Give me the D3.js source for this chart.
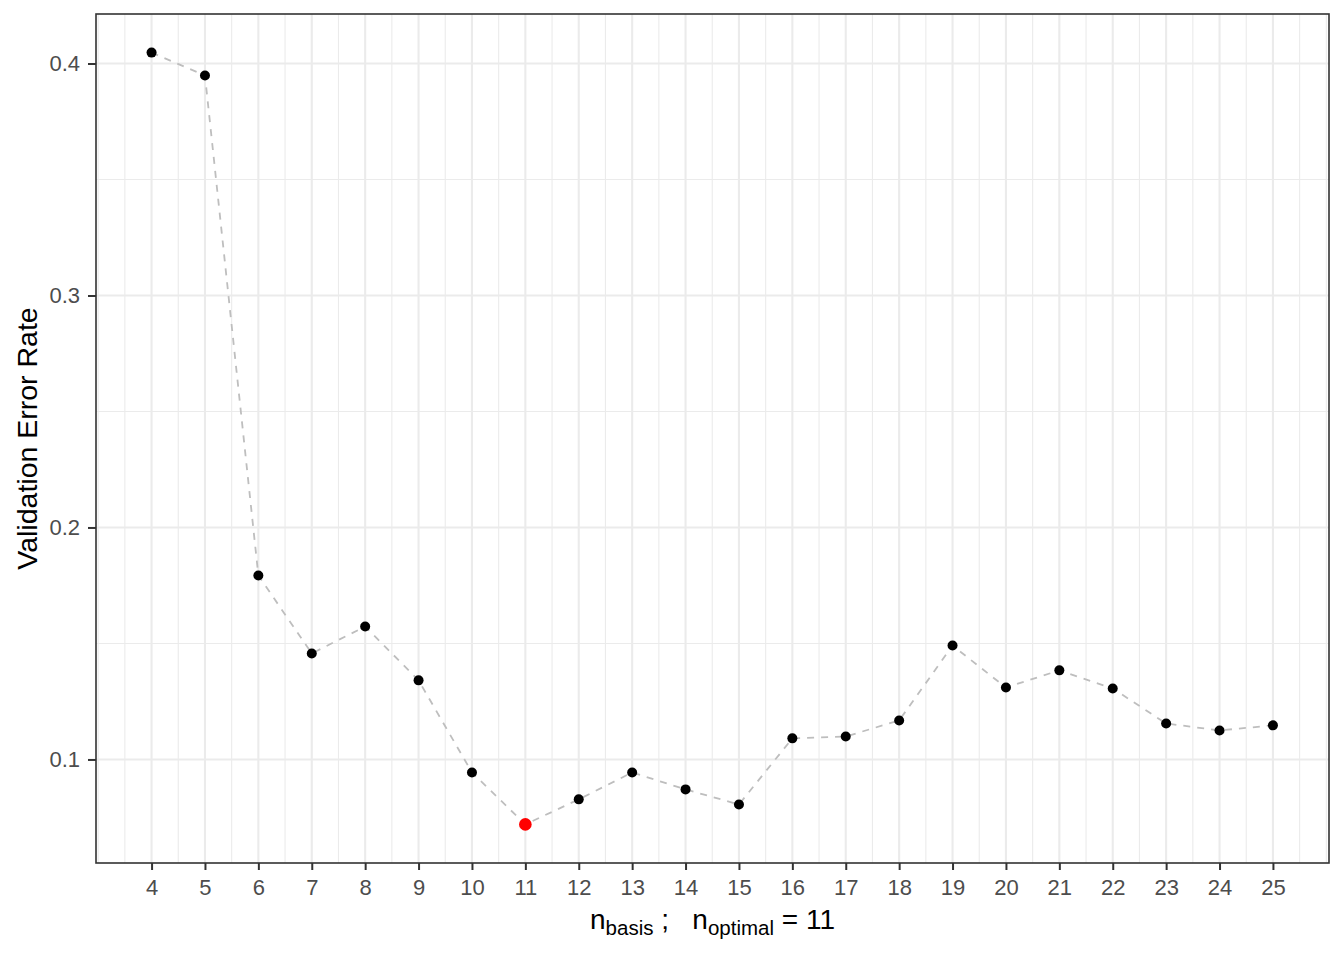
<!DOCTYPE html>
<html><head><meta charset="utf-8">
<script src="https://cdn.jsdelivr.net/npm/d3@7"></script>
<style>body{margin:0;background:#fff}svg{display:block}</style>
</head><body>
<svg id="c" width="1344" height="960"></svg>
<script>
const nBasis = [4,5,6,7,8,9,10,11,12,13,14,15,16,17,18,19,20,21,22,23,24,25];
const errorRate = [0.4047,0.3948,0.1793,0.1457,0.1573,0.1341,0.0944,0.0720,0.0828,0.0944,0.0871,0.0806,0.1091,0.1099,0.1168,0.1491,0.1310,0.1384,0.1306,0.1155,0.1125,0.1147];
const yTicks = [0.1,0.2,0.3,0.4];
const yMinor = [0.05,0.15,0.25,0.35];
const optimalN = 11;
const yTitle = "Validation Error Rate";

const svg = d3.select("#c");
const L=96, R=1329, T=14, B=863;
const xr = d3.extent(nBasis), xe=(xr[1]-xr[0])*0.05;
const yr = d3.extent(errorRate), ye=(yr[1]-yr[0])*0.05;
const x = d3.scaleLinear().domain([xr[0]-xe, xr[1]+xe]).range([L-0.5,R]);
const y = d3.scaleLinear().domain([yr[0]-ye, yr[1]+ye]).range([B,T]);
const font = "'Liberation Sans', Arial, sans-serif";

// minor grid
const xMinor = d3.range(xr[0]-1, xr[1]+1.01, 0.5).filter(v => v>=x.domain()[0] && v<=x.domain()[1] && !nBasis.includes(v));
svg.append("g").selectAll("line").data(xMinor).join("line")
  .attr("x1",d=>x(d)).attr("x2",d=>x(d)).attr("y1",T).attr("y2",B)
  .attr("stroke","#ebebeb").attr("stroke-width",1.1);
svg.append("g").selectAll("line").data(yMinor.filter(v=>v>=y.domain()[0]&&v<=y.domain()[1])).join("line")
  .attr("x1",L).attr("x2",R).attr("y1",d=>y(d)).attr("y2",d=>y(d))
  .attr("stroke","#ebebeb").attr("stroke-width",1.1);
// major grid
svg.append("g").selectAll("line").data(nBasis).join("line")
  .attr("x1",d=>x(d)).attr("x2",d=>x(d)).attr("y1",T).attr("y2",B)
  .attr("stroke","#ebebeb").attr("stroke-width",2.1);
svg.append("g").selectAll("line").data(yTicks).join("line")
  .attr("x1",L).attr("x2",R).attr("y1",d=>y(d)).attr("y2",d=>y(d))
  .attr("stroke","#ebebeb").attr("stroke-width",2.1);

// line
const pts = nBasis.map((n,i)=>[n,errorRate[i]]);
svg.append("path").datum(pts)
  .attr("d", d3.line().x(d=>x(d[0])).y(d=>y(d[1])))
  .attr("fill","none").attr("stroke","#bebebe").attr("stroke-width",1.8)
  .attr("stroke-dasharray","7,7");
// points
svg.append("g").selectAll("circle").data(pts.filter(d=>d[0]!==optimalN)).join("circle")
  .attr("cx",d=>x(d[0])).attr("cy",d=>y(d[1])).attr("r",5).attr("fill","#000");
svg.append("g").selectAll("circle").data(pts.filter(d=>d[0]===optimalN)).join("circle")
  .attr("cx",d=>x(d[0])).attr("cy",d=>y(d[1])).attr("r",6.3).attr("fill","#ff0000");

// border
svg.append("rect").attr("x",L).attr("y",T).attr("width",R-L).attr("height",B-T)
  .attr("fill","none").attr("stroke","#333333").attr("stroke-width",1.6);

// axes
const xAxis = svg.append("g").attr("transform",`translate(0,${B})`)
  .call(d3.axisBottom(x).tickValues(nBasis).tickFormat(d3.format("d")).tickSize(7).tickPadding(9));
const yAxis = svg.append("g").attr("transform",`translate(${L},0)`)
  .call(d3.axisLeft(y).tickValues(yTicks).tickFormat(d3.format(".1f")).tickSize(8).tickPadding(8));
[xAxis,yAxis].forEach(g=>{
  g.select(".domain").remove();
  g.selectAll(".tick line").attr("stroke","#333333").attr("stroke-width",2);
  g.selectAll(".tick text").attr("fill","#4d4d4d").attr("font-size",22).attr("font-family",font);
});

// y title
svg.append("text").attr("transform",`translate(37,${(T+B)/2}) rotate(-90)`)
  .attr("text-anchor","middle").attr("font-family",font).attr("font-size",28.5).attr("fill","#000")
  .text(yTitle);

// x title (plotmath style)
const xt = svg.append("text").attr("x",(L+R)/2).attr("y",929).attr("text-anchor","middle")
  .attr("font-family",font).attr("font-size",28).attr("fill","#000");
xt.append("tspan").text("n");
xt.append("tspan").attr("font-size",20.5).attr("dy",6).text("basis");
xt.append("tspan").attr("dy",-6).text("\u00a0;\u00a0\u00a0\u00a0n");
xt.append("tspan").attr("font-size",20.5).attr("dy",6).text("optimal");
xt.append("tspan").attr("dy",-6).text("\u00a0=\u00a0" + optimalN);
</script>
</body></html>
